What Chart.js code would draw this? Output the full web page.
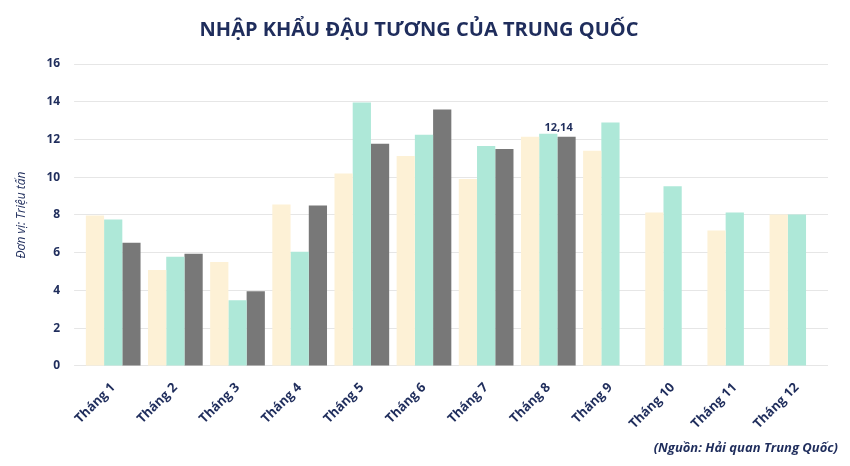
<!DOCTYPE html>
<html><head><meta charset="utf-8">
<script src="https://cdn.jsdelivr.net/npm/chart.js@4/dist/chart.umd.min.js"></script>
<style>html,body{margin:0;padding:0;background:#fff}#w{width:850px;height:466px;position:relative}</style>
</head><body><div id="w"><canvas id="c" width="850" height="466"></canvas></div>
<script>
const categories=["Tháng 1","Tháng 2","Tháng 3","Tháng 4","Tháng 5","Tháng 6","Tháng 7","Tháng 8","Tháng 9","Tháng 10","Tháng 11","Tháng 12"];
const series1=[7.97,5.08,5.51,8.56,10.2,11.13,9.9,12.15,11.4,8.13,7.17,8.03];
const series2=[7.76,5.78,3.48,6.05,13.96,12.25,11.66,12.3,12.9,9.52,8.13,8.03];
const series3=[6.53,5.94,3.96,8.5,11.77,13.59,11.5,12.14,null,null,null,null];
const yTicks=[0,2,4,6,8,10,12,14,16];
const navy='#1f2d5c';
const labelPlugin={id:'lbl',afterDatasetsDraw(ch){const m=ch.getDatasetMeta(2);const e=m.data[7];const x=ch.ctx;x.save();x.font='bold 11px "Open Sans"';x.fillStyle=navy;x.textAlign='center';x.textBaseline='bottom';x.fillText('12,14',e.x-8,e.y-3);x.restore();}};
new Chart(document.getElementById('c'),{type:'bar',
data:{labels:categories,datasets:[
{data:series1,backgroundColor:'#fdf1d6'},
{data:series2,backgroundColor:'#aee8d8'},
{data:series3,backgroundColor:'#787878'}]},
options:{responsive:false,animation:false,
layout:{padding:{left:10,right:22,top:12,bottom:28}},
datasets:{bar:{categoryPercentage:0.88,barPercentage:1}},
plugins:{legend:{display:false},tooltip:{enabled:false},
title:{display:true,text:'NHẬP KHẨU ĐẬU TƯƠNG CỦA TRUNG QUỐC',color:navy,font:{family:'"Open Sans"',size:20,weight:'bold'},padding:{top:6,bottom:22}}},
scales:{x:{grid:{display:false},border:{display:false},ticks:{color:navy,font:{family:'"Open Sans"',size:13,weight:'bold'},maxRotation:45,minRotation:45,padding:6}},
y:{min:0,max:16,afterBuildTicks(a){a.ticks=yTicks.map(v=>({value:v}))},grid:{color:'#e6e6e6'},border:{display:false},
ticks:{color:navy,font:{family:'"Open Sans"',size:12,weight:'bold'},padding:14},
title:{display:true,text:'Đơn vị: Triệu tấn',color:navy,font:{family:'"Open Sans"',size:12,style:'italic'}}}}},
plugins:[labelPlugin,{id:'src',afterDraw(ch){const x=ch.ctx;x.save();x.font='italic bold 13px "Open Sans"';x.fillStyle=navy;x.textAlign='right';x.fillText('(Nguồn: Hải quan Trung Quốc)',838,452);x.restore();}}]
});
</script></body></html>
